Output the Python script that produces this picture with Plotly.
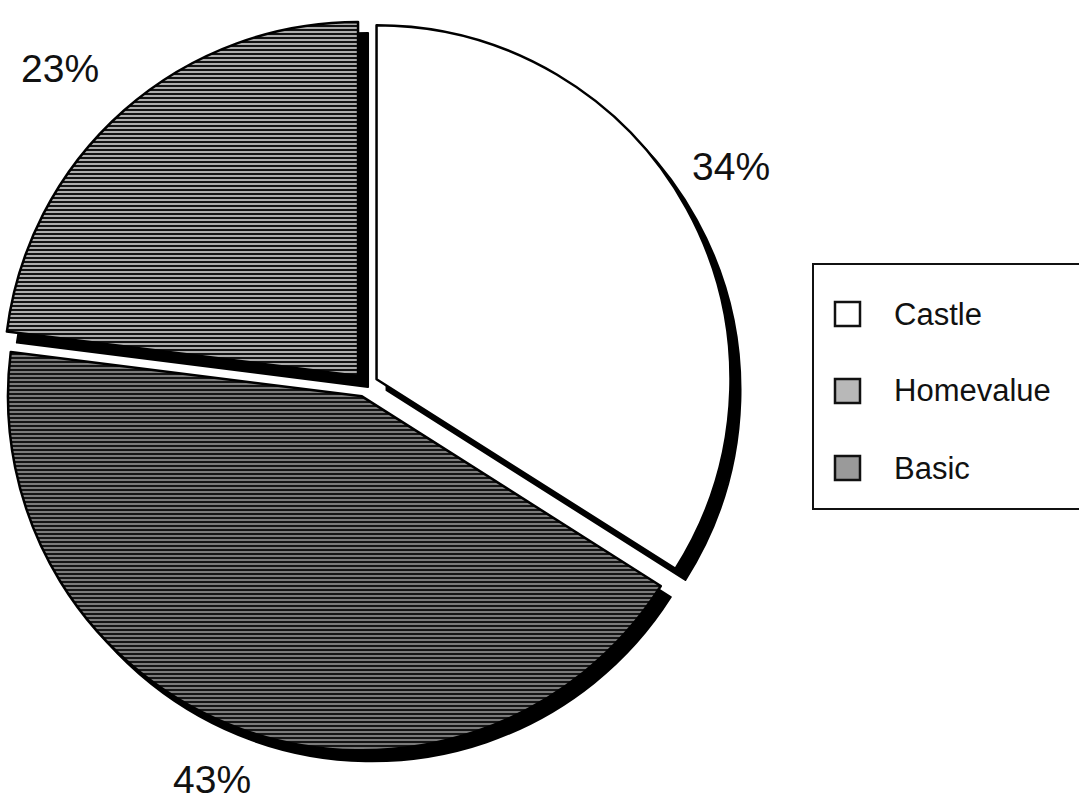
import plotly.graph_objects as go

# Data
categories = ["Castle", "Homevalue", "Basic"]
shares = [34, 43, 23]

W, H = 1079, 803
FONT = "Liberation Sans, Arial, Helvetica, sans-serif"

# slice styling
fills = ["#ffffff", "#6e6e6e", "#b4b4b4"]
patterns = [
    dict(shape=""),
    dict(shape="-", fgcolor="#141414", bgcolor="#7a7a7a", size=4, solidity=0.5),
    dict(shape="-", fgcolor="#111111", bgcolor="#d2d2d2", size=4, solidity=0.6),
]
legend_fills = ["#ffffff", "#b8b8b8", "#9a9a9a"]
pull = 0.034


def px(x):
    return x / W


def py(y):
    return 1 - y / H


# pie domain (pixels): centre ~ (363, 385)
dom_x = [0, 732]
dom_y = [385 - 375, 385 + 375]
shadow_dx, shadow_dy = 10, 11

fig = go.Figure()

# drop shadow: the same pie, offset down-right, in solid black
fig.add_trace(go.Pie(
    labels=categories, values=shares, sort=False, direction="clockwise",
    rotation=0, pull=[pull] * len(shares), textinfo="none", hoverinfo="skip",
    marker=dict(colors=["#000000"] * len(shares), line=dict(color="#000000", width=2)),
    domain=dict(x=[px(dom_x[0] + shadow_dx), px(dom_x[1] + shadow_dx)],
                y=[py(dom_y[1] + shadow_dy), py(dom_y[0] + shadow_dy)]),
    showlegend=False,
))

# main pie
fig.add_trace(go.Pie(
    labels=categories, values=shares, sort=False, direction="clockwise",
    rotation=0, pull=[pull] * len(shares), textinfo="none",
    marker=dict(colors=fills, pattern=dict(
        shape=[p.get("shape", "") for p in patterns],
        fgcolor=[p.get("fgcolor", "#000") for p in patterns],
        bgcolor=[p.get("bgcolor", f) for p, f in zip(patterns, fills)],
        size=[p.get("size", 4) for p in patterns],
        solidity=[p.get("solidity", 0.5) for p in patterns],
        fillmode="replace",
    ), line=dict(color="#000000", width=2.5)),
    domain=dict(x=[px(dom_x[0]), px(dom_x[1])], y=[py(dom_y[1]), py(dom_y[0])]),
    showlegend=False,
))

# percentage labels
label_pos = [(731, 167), (212, 779), (60, 68)]
annotations = []
for v, (lx, ly) in zip(shares, label_pos):
    annotations.append(dict(
        x=px(lx), y=py(ly), xref="paper", yref="paper", text=f"{v}%",
        showarrow=False, xanchor="center", yanchor="middle",
        font=dict(family=FONT, size=39, color="#111111"),
    ))

# legend box
shapes = [dict(type="rect", xref="paper", yref="paper",
               x0=px(813), x1=px(1100), y0=py(509), y1=py(264),
               line=dict(color="#111111", width=2), fillcolor="rgba(0,0,0,0)")]
row_y = [314, 391, 468]
for name, fc, ry in zip(categories, legend_fills, row_y):
    shapes.append(dict(type="rect", xref="paper", yref="paper",
                       x0=px(835), x1=px(860), y0=py(ry + 12), y1=py(ry - 12),
                       line=dict(color="#111111", width=2.5), fillcolor=fc))
    annotations.append(dict(
        x=px(892), y=py(ry), xref="paper", yref="paper", text=name,
        showarrow=False, xanchor="left", yanchor="middle",
        font=dict(family=FONT, size=31, color="#111111"),
    ))

fig.update_layout(
    width=W, height=H,
    margin=dict(l=0, r=0, t=0, b=0),
    paper_bgcolor="white", plot_bgcolor="white",
    showlegend=False,
    shapes=shapes, annotations=annotations,
)

fig.write_html("out.html")
